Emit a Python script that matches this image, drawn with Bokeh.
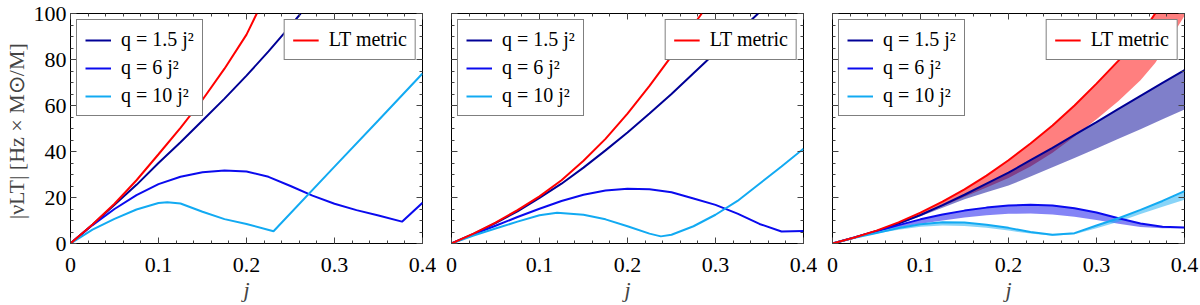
from bokeh.plotting import figure
from bokeh.layouts import row
from bokeh.models import Legend, LegendItem, FixedTicker, LinearAxis, Range1d
from bokeh.embed import file_html
from bokeh.resources import INLINE

FONT = "Liberation Serif"

# ---------------- tick labels / legend text ----------------
x_ticks = [0, 0.1, 0.2, 0.3, 0.4]
x_tick_labels = ["0", "0.1", "0.2", "0.3", "0.4"]
y_ticks = [0, 20, 40, 60, 80, 100]
y_tick_labels = ["0", "20", "40", "60", "80", "100"]
series_labels = ["q = 1.5 j²", "q = 6 j²", "q = 10 j²"]
lt_label = "LT metric"
x_title = "j"
y_title = "|νLT|  [Hz × M⊙/M]"

# ---------------- panel 1 ----------------
p1_lt_j = [0, 0.025, 0.05, 0.075, 0.1, 0.125, 0.15, 0.175, 0.2, 0.2117]
p1_lt_v = [0, 8.3, 17.3, 27.5, 38.8, 50.3, 62.5, 76.0, 90.8, 100]

p1_q15_j = [0, 0.025, 0.05, 0.075, 0.1, 0.125, 0.15, 0.175, 0.2, 0.225, 0.25, 0.2615]
p1_q15_v = [0, 8.2, 16.8, 25.5, 35.0, 44.0, 53.5, 63.0, 73.0, 83.5, 94.6, 100]

p1_q6_j = [0, 0.025, 0.05, 0.075, 0.1, 0.125, 0.15, 0.175, 0.2, 0.225, 0.25, 0.275, 0.3, 0.325, 0.35, 0.3767, 0.4]
p1_q6_v = [0, 8.0, 15.0, 21.0, 25.8, 29.0, 31.0, 31.7, 31.3, 29.0, 25.0, 20.8, 17.3, 14.5, 12.2, 9.5, 17.7]

p1_q10_j = [0, 0.025, 0.05, 0.075, 0.1, 0.11, 0.125, 0.15, 0.175, 0.2, 0.2307, 0.3, 0.35, 0.4]
p1_q10_v = [0, 6.0, 10.7, 14.8, 17.6, 17.9, 17.4, 13.8, 10.6, 8.5, 5.3, 33.4, 53.6, 73.9]

# ---------------- panel 2 ----------------
p2_lt_j = [0, 0.025, 0.05, 0.075, 0.1, 0.125, 0.15, 0.175, 0.2, 0.225, 0.25, 0.275, 0.2844]
p2_lt_v = [0, 4.3, 9.1, 14.5, 20.5, 27.5, 36.0, 45.5, 56.5, 68.5, 81.5, 95.0, 100]

p2_q15_j = [0, 0.025, 0.05, 0.075, 0.1, 0.125, 0.15, 0.175, 0.2, 0.225, 0.25, 0.275, 0.3, 0.325, 0.3485]
p2_q15_v = [0, 4.2, 8.9, 14.0, 19.8, 26.0, 33.0, 40.5, 48.3, 56.5, 65.0, 74.0, 83.0, 91.5, 100]

p2_q6_j = [0, 0.025, 0.05, 0.075, 0.1, 0.125, 0.15, 0.175, 0.2, 0.225, 0.25, 0.275, 0.3, 0.325, 0.35, 0.375, 0.4]
p2_q6_v = [0, 4.0, 7.7, 11.5, 15.1, 18.5, 21.2, 23.0, 23.8, 23.6, 22.3, 19.6, 16.8, 13.0, 8.5, 5.2, 5.4]

p2_q10_j = [0, 0.025, 0.05, 0.075, 0.1, 0.12, 0.15, 0.175, 0.2, 0.225, 0.2379, 0.25, 0.275, 0.3, 0.325, 0.35, 0.375, 0.4]
p2_q10_v = [0, 3.5, 6.5, 9.5, 12.3, 13.4, 12.5, 10.5, 7.5, 4.3, 3.1, 3.8, 7.5, 12.5, 18.5, 26.0, 33.5, 41.2]

# ---------------- panel 3 ----------------
p3_lt_j = [0, 0.025, 0.05, 0.075, 0.1, 0.125, 0.15, 0.175, 0.2, 0.225, 0.25, 0.275, 0.3, 0.325, 0.35, 0.3667]
p3_lt_v = [0, 2.6, 5.6, 9.2, 13.4, 18.2, 23.5, 29.5, 36.2, 43.5, 51.3, 60.0, 69.5, 79.5, 90.5, 100]
p3_lt_band_j = [0, 0.025, 0.05, 0.075, 0.1, 0.125, 0.15, 0.175, 0.2, 0.225, 0.25, 0.275, 0.3, 0.325, 0.35, 0.3667, 0.375, 0.4]
p3_lt_band_hi = [0, 2.6, 5.6, 9.2, 13.4, 18.2, 23.5, 29.5, 36.2, 43.5, 51.3, 60.0, 69.5, 79.5, 90.5, 100, 100, 100]
p3_lt_band_lo = [0, 2.5, 5.4, 8.7, 12.4, 16.2, 20.3, 24.3, 28.5, 33.5, 39.5, 46.5, 54.0, 62.0, 71.0, 78.5, 83.5, 99.0]

p3_j = [0, 0.025, 0.05, 0.075, 0.1, 0.125, 0.15, 0.175, 0.2, 0.225, 0.25, 0.275, 0.3, 0.325, 0.35, 0.375, 0.4]
p3_q15_hi = [0, 2.6, 5.4, 8.7, 12.4, 16.7, 21.2, 26.0, 30.8, 36.2, 41.6, 47.2, 52.8, 58.5, 64.2, 69.8, 75.4]
p3_q15_lo = [0, 2.6, 5.3, 8.4, 11.8, 15.5, 19.2, 22.3, 25.2, 29.1, 33.2, 37.2, 41.3, 45.5, 49.7, 54.0, 58.3]
p3_q6_hi = [0, 2.6, 5.3, 8.0, 10.5, 12.6, 14.3, 15.6, 16.5, 16.8, 16.5, 15.3, 13.5, 11.0, 8.7, 7.3, 7.0]
p3_q6_lo = [0, 2.5, 5.0, 7.0, 8.6, 10.0, 11.3, 12.3, 12.9, 13.0, 12.6, 11.6, 10.2, 8.6, 7.2, 6.6, 6.6]
p3_q10_hi = [0, 2.5, 4.6, 6.7, 8.4, 9.2, 9.1, 8.2, 6.8, 5.0, 3.8, 4.5, 7.8, 11.0, 14.6, 18.5, 22.8]
p3_q10_lo = [0, 2.4, 4.3, 6.0, 7.3, 7.8, 7.6, 6.8, 5.6, 4.3, 3.4, 4.0, 6.6, 9.5, 12.8, 16.0, 19.0]

RED = "#ff0000"
NAVY = "#000096"
BLUE = "#0a0aee"
LIGHT = "#12aaf2"
LW = 2

x_minor = [i * 0.02 for i in range(21)]
y_minor = [i * 5 for i in range(21)]


def style_axis(ax, labels, ticks, minor, show_labels):
    ax.ticker = FixedTicker(ticks=ticks, minor_ticks=minor)
    if show_labels:
        ax.major_label_overrides = {t: l for t, l in zip(ticks, labels)}
    else:
        ax.major_label_overrides = {t: "" for t in ticks}
    ax.major_tick_in = 6
    ax.major_tick_out = 0
    ax.minor_tick_in = 3
    ax.minor_tick_out = 0
    ax.axis_line_color = None
    ax.major_tick_line_color = "#444444"
    ax.minor_tick_line_color = "#444444"
    ax.major_label_text_font = FONT
    ax.major_label_text_font_size = "22px"
    ax.major_label_text_color = "black"


def make_fig(left_border, right_border, ylabels):
    p = figure(frame_width=352, frame_height=230,
               x_range=Range1d(0, 0.4), y_range=Range1d(0, 100),
               output_backend="svg", toolbar_location=None,
               min_border_left=left_border, min_border_right=right_border,
               min_border_top=13, min_border_bottom=61)
    p.xgrid.visible = False
    p.ygrid.visible = False
    p.outline_line_color = "black"
    p.outline_line_width = 1
    p.background_fill_color = "white"
    p.border_fill_color = "white"

    style_axis(p.xaxis[0], x_tick_labels, x_ticks, x_minor, True)
    p.xaxis[0].major_label_standoff = 14
    p.xaxis[0].axis_label = x_title
    p.xaxis[0].axis_label_text_font = FONT
    p.xaxis[0].axis_label_text_font_style = "italic"
    p.xaxis[0].axis_label_text_font_size = "22px"
    p.xaxis[0].axis_label_standoff = 2

    style_axis(p.yaxis[0], y_tick_labels, y_ticks, y_minor, ylabels)
    p.yaxis[0].major_label_standoff = 4
    if ylabels:
        p.yaxis[0].axis_label = y_title
        p.yaxis[0].axis_label_text_font = FONT
        p.yaxis[0].axis_label_text_font_style = "normal"
        p.yaxis[0].axis_label_text_font_size = "22px"
        p.yaxis[0].axis_label_standoff = 2

    top = LinearAxis()
    style_axis(top, x_tick_labels, x_ticks, x_minor, False)
    top.major_label_standoff = 0
    p.add_layout(top, "above")
    right = LinearAxis()
    style_axis(right, y_tick_labels, y_ticks, y_minor, False)
    right.major_label_standoff = 0
    p.add_layout(right, "right")
    return p


def add_legends(p, r_q15, r_q6, r_q10, r_lt):
    left = Legend(items=[LegendItem(label=series_labels[0], renderers=[r_q15]),
                         LegendItem(label=series_labels[1], renderers=[r_q6]),
                         LegendItem(label=series_labels[2], renderers=[r_q10])],
                  location="top_left")
    right = Legend(items=[LegendItem(label=lt_label, renderers=[r_lt])],
                   location="top_right")
    for lg in (left, right):
        lg.label_text_font = FONT
        lg.label_text_font_size = "20px"
        lg.label_text_color = "black"
        lg.border_line_color = "black"
        lg.border_line_width = 1
        lg.background_fill_color = "white"
        lg.background_fill_alpha = 1.0
        lg.margin = 6
        lg.padding = 8
        lg.spacing = 5
        lg.glyph_width = 26
        lg.label_standoff = 10
        p.add_layout(lg)


# ---------- figure 1 ----------
p1 = make_fig(70, 14, True)
a1 = p1.line(p1_q15_j, p1_q15_v, line_color=NAVY, line_width=LW)
b1 = p1.line(p1_q6_j, p1_q6_v, line_color=BLUE, line_width=LW)
c1 = p1.line(p1_q10_j, p1_q10_v, line_color=LIGHT, line_width=LW)
d1 = p1.line(p1_lt_j, p1_lt_v, line_color=RED, line_width=LW)
add_legends(p1, a1, b1, c1, d1)

# ---------- figure 2 ----------
p2 = make_fig(15, 14, False)
a2 = p2.line(p2_q15_j, p2_q15_v, line_color=NAVY, line_width=LW)
b2 = p2.line(p2_q6_j, p2_q6_v, line_color=BLUE, line_width=LW)
c2 = p2.line(p2_q10_j, p2_q10_v, line_color=LIGHT, line_width=LW)
d2 = p2.line(p2_lt_j, p2_lt_v, line_color=RED, line_width=LW)
add_legends(p2, a2, b2, c2, d2)

# ---------- figure 3 ----------
p3 = make_fig(15, 15, False)
p3.varea(x=p3_lt_band_j, y1=p3_lt_band_lo, y2=p3_lt_band_hi, fill_color=RED, fill_alpha=0.5)
p3.varea(x=p3_j, y1=p3_q15_lo, y2=p3_q15_hi, fill_color=NAVY, fill_alpha=0.5)
p3.varea(x=p3_j, y1=p3_q6_lo, y2=p3_q6_hi, fill_color=BLUE, fill_alpha=0.5)
p3.varea(x=p3_j, y1=p3_q10_lo, y2=p3_q10_hi, fill_color=LIGHT, fill_alpha=0.5)
a3 = p3.line(p3_j, p3_q15_hi, line_color=NAVY, line_width=LW)
b3 = p3.line(p3_j, p3_q6_hi, line_color=BLUE, line_width=LW)
c3 = p3.line(p3_j, p3_q10_hi, line_color=LIGHT, line_width=LW)
d3 = p3.line(p3_lt_j, p3_lt_v, line_color=RED, line_width=LW)
add_legends(p3, a3, b3, c3, d3)

layout = row(p1, p2, p3)
open("out.html", "w").write(file_html(layout, INLINE))
